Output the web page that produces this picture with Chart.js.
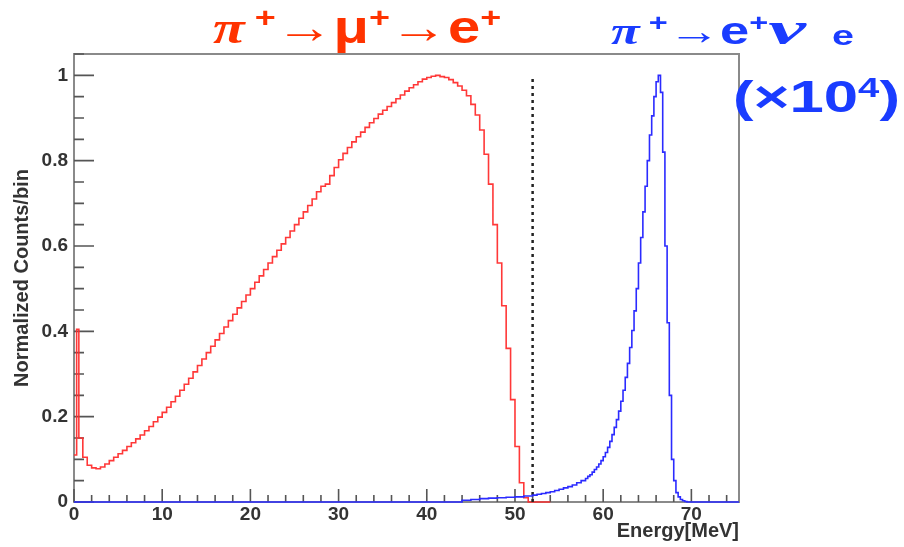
<!DOCTYPE html>
<html>
<head>
<meta charset="utf-8">
<script src="https://cdn.jsdelivr.net/npm/chart.js@4/dist/chart.umd.min.js"></script>
<style>
  html, body { margin: 0; padding: 0; background: #fff; }
  #wrap { position: relative; width: 904px; height: 547px; overflow: hidden; }
  #c { position: absolute; left: 0; top: 0; }
  .h { position: absolute; white-space: nowrap; line-height: 1; font-family: "Liberation Sans", Arial, sans-serif; font-weight: bold; transform-origin: 0 0; }
  .pi, .nu { font-family: "Liberation Serif", "DejaVu Serif", serif; font-style: italic; font-weight: bold; }
  .nu { display: inline-block; font-size: 1.2em; transform: scaleX(1.35); transform-origin: 0 0; margin-right: 26px; }
  .sp { font-size: 0.62em; position: relative; top: -0.55em; }
  .sb { font-size: 0.75em; position: relative; top: 0.05em; }
  .red { color: #ff3300; }
  .blue { color: #1a3cff; }
</style>
</head>
<body>
<div id="wrap">
  <canvas id="c" width="904" height="547"></canvas>
  <div class="h red" id="t1" style="left:213px; top:4px; font-size:46px; transform:scaleX(1.26);"><span class="pi">π</span><span class="sp"> +</span>→μ<span class="sp">+</span>→e<span class="sp">+</span></div>
  <div class="h blue" id="t2" style="left:611px; top:6px; font-size:38px; transform:scaleX(1.38);"><span class="pi">π</span><span class="sp"> +</span>→e<span class="sp">+</span><span class="nu">ν</span><span class="sb">e</span></div>
  <div class="h blue" id="t3" style="left:733px; top:74px; font-size:45px; transform:scaleX(1.37);">(×10<span class="sp">4</span>)</div>
</div>
<script>
// ---------------- data ----------------
// axis ranges and tick steps
const xMin = 0, xMax = 75.4;
const yMin = 0, yMax = 1.05;
const xMajorStep = 10, xMinorStep = 2;
const yMajorStep = 0.2, yMinorStep = 0.05;

// pi+ -> mu+ -> e+ histogram (red): irregular first bins, then 0.5 MeV bins from 1.0 to 54.0 MeV
const redHeadEdges  = [0.0, 0.3, 0.55];
const redHeadCounts = [0.11, 0.405, 0.15];
const redBinStart = 1.0, redBinWidth = 0.5;
const redCounts = [
  0.105, 0.086, 0.080, 0.078, 0.082, 0.089, 0.097, 0.105, 0.113, 0.121,
  0.130, 0.139, 0.148, 0.157, 0.167, 0.177, 0.188, 0.199, 0.210, 0.222,
  0.235, 0.248, 0.262, 0.276, 0.290, 0.305, 0.320, 0.335, 0.350, 0.365,
  0.380, 0.395, 0.410, 0.425, 0.440, 0.455, 0.470, 0.485, 0.500, 0.515,
  0.530, 0.545, 0.560, 0.575, 0.590, 0.605, 0.620, 0.635, 0.650, 0.665,
  0.680, 0.695, 0.710, 0.727, 0.740, 0.745, 0.765, 0.784, 0.802, 0.817,
  0.831, 0.844, 0.856, 0.867, 0.878, 0.889, 0.899, 0.909, 0.918, 0.927,
  0.936, 0.945, 0.954, 0.963, 0.971, 0.978, 0.985, 0.991, 0.995, 0.998,
  1.000, 0.997, 0.995, 0.990, 0.983, 0.975, 0.965, 0.952, 0.932, 0.907,
  0.872, 0.815, 0.745, 0.650, 0.560, 0.460, 0.360, 0.240, 0.130, 0.045,
  0.010, 0.000, 0.000, 0.000, 0.000, 0.000
];

// pi+ -> e+ nu_e histogram (blue, x10^4): bin lower edges (last entry = upper edge of last bin)
const blueEdges = [
  0, 44, 45, 46, 47, 48, 49, 50, 51,
  52, 52.5, 53, 53.5, 54, 54.5, 55, 55.5, 56, 56.5, 57, 57.5,
  58, 58.25, 58.5, 58.75, 59, 59.25, 59.5, 59.75,
  60, 60.25, 60.5, 60.75, 61, 61.25, 61.5, 61.75,
  62, 62.25, 62.5, 62.75, 63, 63.25, 63.5, 63.75,
  64, 64.25, 64.5, 64.75, 65, 65.25, 65.5, 65.75,
  66, 66.25, 66.5, 66.75, 67, 67.25, 67.5, 67.75,
  68, 68.25, 68.5, 68.75, 69, 69.25, 69.5, 69.75,
  70, 75.4
];
const blueCounts = [
  0, 0.004, 0.006, 0.008, 0.009, 0.010, 0.011, 0.012, 0.014,
  0.016, 0.018, 0.020, 0.022, 0.024, 0.027, 0.030, 0.033, 0.036, 0.040, 0.045, 0.050,
  0.055, 0.060, 0.064, 0.070, 0.076, 0.082, 0.089, 0.097,
  0.106, 0.116, 0.128, 0.142, 0.158, 0.175, 0.193, 0.213,
  0.236, 0.262, 0.292, 0.325, 0.362, 0.402, 0.448, 0.500,
  0.560, 0.620, 0.680, 0.740, 0.800, 0.860, 0.905, 0.950,
  0.985, 1.000, 0.960, 0.820, 0.600, 0.420, 0.250, 0.100,
  0.050, 0.022, 0.012, 0.006, 0.003, 0.001, 0.000, 0.000,
  0.000
];

// selection cut (dotted line)
const cutEnergy = 52;
const cutTop = 1.0;

// ---------------- build points ----------------
function histPoints(edges, counts) {
  const pts = [];
  for (let i = 0; i < counts.length; i++) pts.push({ x: edges[i], y: counts[i] });
  pts.push({ x: edges[counts.length], y: counts[counts.length - 1] });
  return pts;
}
const redEdges = redHeadEdges.slice();
for (let i = 0; i <= redCounts.length; i++) redEdges.push(redBinStart + i * redBinWidth);
const redPoints = histPoints(redEdges, redHeadCounts.concat(redCounts));
const bluePoints = histPoints(blueEdges, blueCounts);

// ---------------- frame & inside ticks (ROOT style) ----------------
const rootFrame = {
  id: 'rootFrame',
  beforeDatasetsDraw(chart) {
    const { ctx, chartArea: a, scales: { x, y } } = chart;
    ctx.save();
    ctx.strokeStyle = '#8a8a8a';
    ctx.lineWidth = 2;
    ctx.strokeRect(a.left, a.top, a.right - a.left, a.bottom - a.top);
    ctx.strokeStyle = '#555';
    ctx.lineWidth = 1.6;
    ctx.beginPath();
    const xr = Math.round(xMajorStep / xMinorStep);
    for (let i = 0; xMin + i * xMinorStep <= xMax + 1e-9; i++) {
      const px = x.getPixelForValue(xMin + i * xMinorStep);
      const len = (i % xr === 0) ? 13 : 7;
      ctx.moveTo(px, a.bottom);
      ctx.lineTo(px, a.bottom - len);
    }
    const yr = Math.round(yMajorStep / yMinorStep);
    for (let i = 0; yMin + i * yMinorStep <= yMax + 1e-9; i++) {
      const py = y.getPixelForValue(yMin + i * yMinorStep);
      const len = (i % yr === 0) ? 20 : 10;
      ctx.moveTo(a.left, py);
      ctx.lineTo(a.left + len, py);
    }
    ctx.stroke();
    ctx.restore();
  }
};

const labelFont = { family: '"Liberation Sans", Arial, sans-serif', size: 19, weight: 'bold' };
const titleFont = { family: '"Liberation Sans", Arial, sans-serif', size: 20, weight: 'bold' };

new Chart(document.getElementById('c'), {
  type: 'line',
  data: {
    datasets: [
      { label: 'pi->e nu (x1e4)', data: bluePoints, stepped: true, borderColor: '#2b2bff', borderWidth: 1.6, pointRadius: 0, fill: false, clip: false, order: 0 },
      { label: 'cut', data: [{ x: cutEnergy, y: 0 }, { x: cutEnergy, y: cutTop }], borderColor: '#222', borderWidth: 2.5, borderDash: [3, 4], pointRadius: 0, fill: false, clip: false, order: 1 },
      { label: 'pi->mu->e', data: redPoints, stepped: true, borderColor: 'rgba(255,45,45,0.95)', borderWidth: 1.6, pointRadius: 0, fill: false, clip: false, order: 2 }
    ]
  },
  options: {
    responsive: false,
    animation: false,
    devicePixelRatio: 1,
    layout: { padding: { top: 54, right: 165, left: 0, bottom: 0 } },
    plugins: { legend: { display: false }, tooltip: { enabled: false }, title: { display: false } },
    scales: {
      x: {
        type: 'linear', min: xMin, max: xMax,
        grid: { display: false, drawTicks: false, tickLength: 0 }, border: { display: false },
        ticks: { stepSize: xMajorStep, includeBounds: false, font: labelFont, color: '#333', padding: 1, maxRotation: 0 },
        title: { display: true, text: 'Energy[MeV]', align: 'end', font: titleFont, color: '#333', padding: { top: 0, bottom: 4 } },
        afterFit(s) { s.height = 45; }
      },
      y: {
        type: 'linear', min: yMin, max: yMax,
        grid: { display: false, drawTicks: false, tickLength: 0 }, border: { display: false },
        ticks: { stepSize: yMajorStep, includeBounds: false, font: labelFont, color: '#333', padding: 6,
                 callback: (v) => String(Number(v.toFixed(2))) },
        title: { display: true, text: 'Normalized Counts/bin', font: titleFont, color: '#333', padding: { top: 10, bottom: 0 } },
        afterFit(s) { s.width = 74; }
      }
    }
  },
  plugins: [rootFrame]
});
</script>
</body>
</html>
